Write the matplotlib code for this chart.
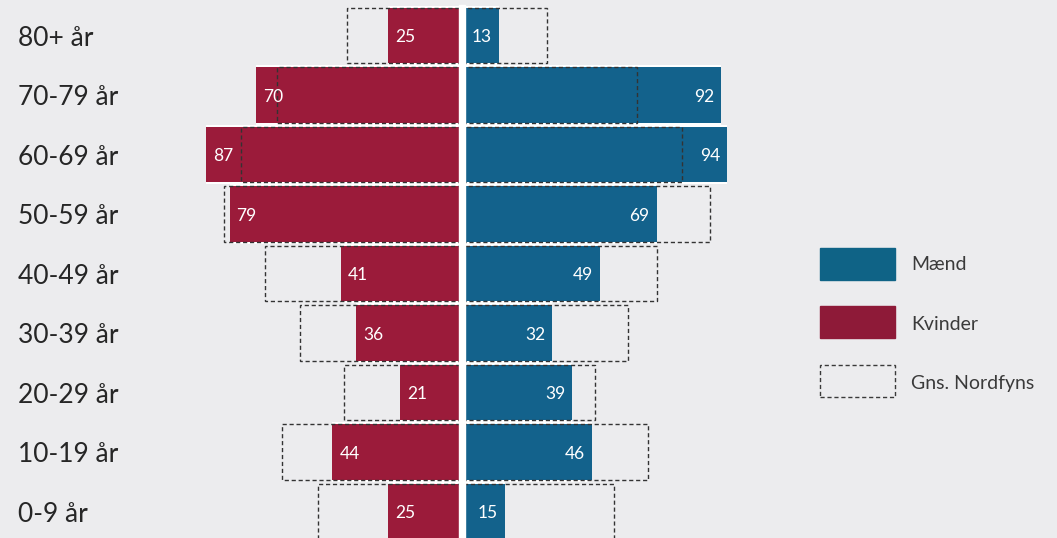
import numpy as np
import matplotlib
matplotlib.use("Agg")
import matplotlib.pyplot as plt

plt.rcParams['font.family'] = ['Lato', 'DejaVu Sans']

# aldersgrupper, nederst -> øverst
aldre = ['0-9 år', '10-19 år', '20-29 år', '30-39 år', '40-49 år',
         '50-59 år', '60-69 år', '70-79 år', '80+ år']
kvinder = [25, 44, 21, 36, 41, 79, 87, 70, 25]
maend = [15, 46, 39, 32, 49, 69, 94, 92, 13]
# gennemsnit for Nordfyns (stiplede kasser)
gns_kvinder = [49, 61, 40, 55, 67, 81, 75, 63, 39]
gns_maend = [54, 66, 47, 59, 69, 88, 78, 62, 30]

rod = '#9b1b3a'
blaa = '#13628c'
bg = '#ececee'
W, H = 1057, 538

fig = plt.figure(figsize=(W/100, H/100), dpi=100)
fig.patch.set_facecolor(bg)

midt_w = 461.8
midt_m = 462.4
ax_w = fig.add_axes([0, 0, midt_w/W, 1])
ax_m = fig.add_axes([midt_m/W, 0, (W-midt_m)/W, 1])

y = np.arange(len(aldre))
ylim = (-0.447, 8.595)
bar_h = 0.936

for ax in (ax_w, ax_m):
    ax.set_facecolor('none')
    ax.set_ylim(*ylim)
    ax.axis('off')

ax_w.set_xlim(midt_w/2.94, 0)
ax_m.set_xlim(0, (W-midt_m)/2.815)

# hvid baggrund bag søjlerne giver de hvide mellemrum
ax_w.barh(y, kvinder, height=1.0, color='white', zorder=1)
ax_m.barh(y, maend, height=1.0, color='white', zorder=1)
ax_w.barh(y, kvinder, height=bar_h, color=rod, zorder=2)
ax_m.barh(y, maend, height=bar_h, color=blaa, zorder=2)

dash = (0, (3, 2))
ax_w.barh(y, gns_kvinder, height=bar_h, fill=False, edgecolor='#333333',
          linestyle=dash, linewidth=1.0, zorder=3)
ax_m.barh(y, gns_maend, height=bar_h, fill=False, edgecolor='#333333',
          linestyle=dash, linewidth=1.0, zorder=3)

for i in range(len(aldre)):
    ax_w.annotate(str(kvinder[i]), (kvinder[i], y[i]), xytext=(5, -1.5),
                  textcoords='offset points', ha='left', va='center',
                  color='white', fontsize=12.5, zorder=4)
    ax_m.annotate(str(maend[i]), (maend[i], y[i]), xytext=(-5, -1.5),
                  textcoords='offset points', ha='right', va='center',
                  color='white', fontsize=12.5, zorder=4)
    ax_w.annotate(aldre[i], (18/midt_w, y[i]), xycoords=ax_w.get_yaxis_transform(),
                  xytext=(0, -2), textcoords='offset points',
                  ha='left', va='center', fontsize=19, color='#262626')

# hvid lodret streg i midten
fig.add_artist(plt.Rectangle((459/W, 0), 6/W, (H-5)/H, transform=fig.transFigure,
                             color='white', zorder=5))

# forklaring
def px(x0, y0, w, h):
    return (x0/W, 1-(y0+h)/H), w/W, h/H

xy, w, h = px(820, 248, 75, 32)
fig.add_artist(plt.Rectangle(xy, w, h, transform=fig.transFigure, color='#0f6386'))
xy, w, h = px(820, 306, 75, 32)
fig.add_artist(plt.Rectangle(xy, w, h, transform=fig.transFigure, color='#8e1a38'))
xy, w, h = px(820, 365, 75, 32)
fig.add_artist(plt.Rectangle(xy, w, h, transform=fig.transFigure, fill=False,
                             edgecolor='#3a3a3a', linestyle=dash, linewidth=1.0))
for ty, txt in [(265, 'Mænd'), (324, 'Kvinder'), (383, 'Gns. Nordfyns')]:
    fig.text(911/W, 1-ty/H, txt, ha='left', va='center', fontsize=14, color='#3a3a3a')

fig.savefig('out.png', dpi=100, facecolor=bg)
